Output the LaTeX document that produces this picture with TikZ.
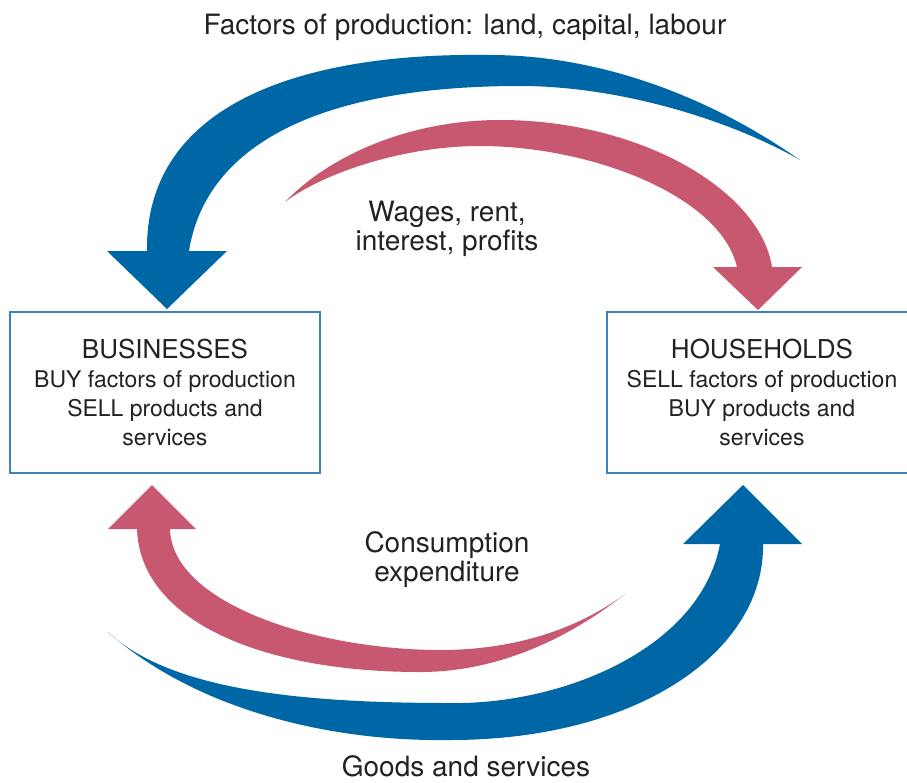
\documentclass[tikz,border=0pt]{standalone}
\usepackage{fontspec}
\setmainfont{TeX Gyre Heros}
\definecolor{flowblue}{RGB}{0,103,166}
\definecolor{flowpink}{RGB}{200,87,112}
\definecolor{boxline}{RGB}{60,130,195}
\definecolor{txt}{RGB}{34,34,34}
\begin{document}
\begin{tikzpicture}[x=1pt,y=-1pt,
  bluearrow/.style={fill=flowblue},
  pinkarrow/.style={fill=flowpink},
  agent/.style={draw=boxline, line width=1.5pt, fill=white, minimum width=310pt, minimum height=161pt,
    align=center, text=txt, inner sep=0pt, font=\fontsize{23}{29}\selectfont},
  agenttitle/.style={font=\fontsize{26}{29}\selectfont},
  flowlabel/.style={text=txt, align=center, inner sep=0pt, font=\fontsize{28}{29}\selectfont}]
\useasboundingbox (0,0) rectangle (907,782);
\clip (0,0) rectangle (907,782);
\fill[white] (0,0) rectangle (907,782);

% boxes
\node[agent] (bus) at (165,392.5) {{\fontsize{26}{29}\selectfont BUSINESSES}\\BUY factors of production\\SELL products and\\services};
\node[agent] (hh) at (762,392.5) {{\fontsize{26}{29}\selectfont HOUSEHOLDS}\\SELL factors of production\\BUY products and\\services};

% top blue arrow: factors of production (households -> businesses)
\fill[bluearrow] (800,160) .. controls (700,90) and (590,55) .. (490,55)
  .. controls (290,52) and (145,110) .. (147,251)
  -- (107,251) -- (167,309) -- (227,251) -- (189,251)
  .. controls (205,150) and (310,86) .. (520,86)
  .. controls (620,86) and (730,120) .. (800,160) -- cycle;

% top pink arrow: wages etc. (businesses -> households)
\fill[pinkarrow] (285,202) .. controls (330,155) and (410,120) .. (500,120)
  .. controls (640,120) and (760,190) .. (772,267)
  -- (802,267) -- (758,310) -- (713,267) -- (737,267)
  .. controls (720,195) and (590,146) .. (480,146)
  .. controls (400,146) and (320,175) .. (285,202) -- cycle;

% bottom pink arrow: consumption expenditure (households -> businesses)
\fill[pinkarrow] (625,594) .. controls (560,645) and (490,672) .. (420,672)
  .. controls (260,672) and (140,620) .. (137,529)
  -- (108,529) -- (152,485) -- (196,529) -- (170,529)
  .. controls (172,605) and (320,650) .. (440,650)
  .. controls (530,650) and (590,620) .. (625,594) -- cycle;

% bottom blue arrow: goods and services (businesses -> households)
\fill[bluearrow] (108,632) .. controls (190,705) and (320,742) .. (450,740)
  .. controls (640,740) and (765,650) .. (763,544)
  -- (802,544) -- (743,485) -- (683,544) -- (720,544)
  .. controls (700,650) and (560,705) .. (450,703)
  .. controls (300,703) and (170,690) .. (108,632) -- cycle;

% labels
\node[flowlabel, anchor=base] (fop) at (465,34) {Factors of production: land, capital, labour};
\node[flowlabel] (wages) at (447,229) {Wages, rent,\\interest, profits};
\node[flowlabel] (cons) at (447,560) {Consumption\\expenditure};
\node[flowlabel, anchor=base] (goods) at (466,776) {Goods and services};
\end{tikzpicture}
\end{document}
